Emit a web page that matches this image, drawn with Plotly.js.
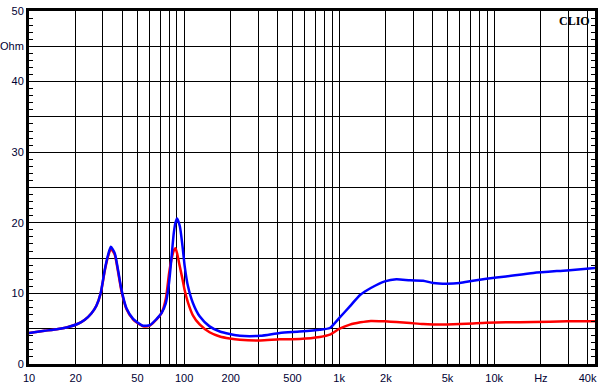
<!DOCTYPE html>
<html>
<head>
<meta charset="utf-8">
<script src="https://cdn.plot.ly/plotly-3.0.1.min.js"></script>
<style>html,body{margin:0;padding:0;background:#fff;}#chart{width:604px;height:389px;}</style>
</head>
<body>
<div id="chart"></div>
<script>
// Frequencies (Hz)
var freq = [10, 12.6, 15.4, 17.9, 20.7, 22.9, 25.3, 27.2, 29.0, 30.8, 32.4, 33.7, 35.7, 37.5, 39.5, 42.5, 46.9, 49.3, 54.4, 60.2, 66.4, 71.5, 76.2, 80.0, 82.9, 85.9, 88, 90.1, 93.9, 97.7, 101, 106, 114, 126, 146, 170, 197, 229, 310, 414, 557, 750, 871, 1000, 1172, 1370, 1600, 1970, 2340, 2870, 3480, 4040, 4940, 5990, 7300, 8900, 11900, 17900, 29400, 45000];
// Blue curve impedance (Ohm)
var blueZ = [4.4, 4.7, 4.96, 5.24, 5.7, 6.27, 7.2, 8.26, 10.06, 13.36, 15.5, 16.6, 15.7, 13.36, 10.5, 7.9, 6.4, 6.0, 5.42, 5.5, 6.37, 7.2, 8.6, 11.5, 15.0, 18.6, 20.0, 20.6, 19.5, 16.7, 13.8, 11.0, 8.64, 6.75, 5.33, 4.6, 4.25, 4.0, 4.0, 4.4, 4.6, 4.86, 5.1, 6.5, 8.16, 9.8, 10.76, 11.7, 12.0, 11.85, 11.8, 11.47, 11.37, 11.47, 11.8, 12.08, 12.4, 12.9, 13.26, 13.6];
// Red curve impedance (Ohm)
var redZ = [4.4, 4.7, 4.96, 5.24, 5.7, 6.27, 7.2, 8.26, 10.0, 13.2, 15.3, 16.3, 15.5, 13.1, 10.3, 7.8, 6.3, 5.9, 5.35, 5.45, 6.3, 7.2, 9.2, 12.8, 14.8, 16.1, 16.4, 15.7, 13.8, 12.0, 10.4, 8.7, 6.9, 5.6, 4.5, 3.9, 3.62, 3.44, 3.34, 3.5, 3.54, 3.82, 4.15, 4.96, 5.57, 5.9, 6.1, 6.04, 5.95, 5.8, 5.65, 5.6, 5.6, 5.65, 5.75, 5.85, 5.9, 5.95, 6.04, 6.04];

// Axis ticks
var xTickVals = [10,20,30,40,50,60,70,80,90,100,200,300,400,500,600,700,800,900,1000,2000,3000,4000,5000,6000,7000,8000,9000,10000,20000,30000,40000];
var xTickText = ["10","20","","","50","","","","","100","200","","","500","","","","","1k","2k","","","5k","","","","","10k","Hz","","40k"];
var yTickVals = [0,5,10,15,20,25,30,35,40,45,50];
var yTickText = ["0","","10","","20","","30","","40","Ohm","50"];

var txtFont = {family: 'Liberation Sans, Arial, sans-serif', size: 11, color: '#000033'};

var traces = [
  {x: freq, y: redZ, type: 'scatter', mode: 'lines', line: {color: '#ff0000', width: 2.5, shape: 'spline', smoothing: 0.6}, hoverinfo: 'none'},
  {x: freq, y: blueZ, type: 'scatter', mode: 'lines', line: {color: '#0000ff', width: 2.5, shape: 'spline', smoothing: 0.6}, hoverinfo: 'none'}
];

var layout = {
  width: 604, height: 389,
  margin: {l: 29, r: 9, t: 11, b: 25, pad: 0},
  paper_bgcolor: '#ffffff', plot_bgcolor: '#ffffff',
  showlegend: false,
  xaxis: {
    type: 'log', range: [1, 4.65],
    tickmode: 'array', tickvals: xTickVals, ticktext: xTickText,
    showgrid: true, gridcolor: '#000000', gridwidth: 1,
    showline: true, linecolor: '#000000', linewidth: 3, mirror: true,
    ticks: '', tickfont: txtFont, ticklabelstandoff: 2, zeroline: false, fixedrange: true
  },
  yaxis: {
    range: [0, 50],
    tickmode: 'array', tickvals: yTickVals, ticktext: yTickText,
    showgrid: true, gridcolor: '#000000', gridwidth: 1,
    showline: true, linecolor: '#000000', linewidth: 3, mirror: 'allticks',
    ticks: 'inside', ticklen: 4, tickcolor: '#000000', tickwidth: 1,
    minor: {dtick: 1, tick0: 0, ticks: 'inside', ticklen: 4, tickcolor: '#000000', tickwidth: 1, showgrid: false},
    tickfont: txtFont, zeroline: false, fixedrange: true
  },
  annotations: [
    {xref: 'paper', yref: 'paper', x: 1, y: 1, xanchor: 'right', yanchor: 'top', xshift: -3, yshift: -1,
     text: '<b>CLIO</b>', showarrow: false, font: {family: 'Liberation Serif, serif', size: 12, color: '#000000'}}
  ]
};

Plotly.newPlot('chart', traces, layout, {staticPlot: true, displayModeBar: false});
</script>
</body>
</html>
